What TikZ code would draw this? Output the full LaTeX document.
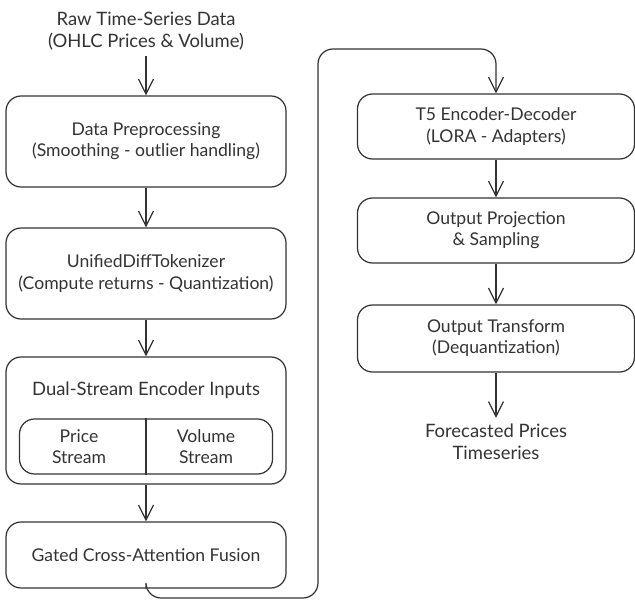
\documentclass[tikz,border=0pt]{standalone}
\usepackage{fontspec}
\setmainfont{Lato}
\usetikzlibrary{arrows.meta}
\definecolor{ink}{HTML}{333333}
\tikzset{
  stage/.style={draw=ink,line width=0.7pt,rounded corners=0.3cm,align=center,text=ink,minimum width=5.6cm,font=\fontsize{10}{12}\selectfont},
  label/.style={align=center,text=ink,font=\fontsize{10.5}{12.5}\selectfont},
  arr/.style={draw=ink,line width=0.7pt,-{Straight Barb[length=3mm,width=3mm]}}
}
\begin{document}
\begin{tikzpicture}
\useasboundingbox (0,0) rectangle (12.7,12.06);
%left column
\node[label] (raw) at (2.92,11.44) {Raw Time-Series Data\\(OHLC Prices \& Volume)};
\node[stage,minimum height=1.82cm] (prep) at (2.92,9.23) {Data Preprocessing\\(Smoothing - outlier handling)};
\node[stage,minimum height=1.82cm] (tok) at (2.92,6.59) {UnifiedDiffTokenizer\\(Compute returns - Quantization)};
\node[stage,minimum height=2.54cm] (dual) at (2.92,3.65) {};
\node[label] (dualtitle) at (2.92,4.26) {Dual-Stream Encoder Inputs};
\node[stage,minimum width=5.06cm,minimum height=1.1cm] (streams) at (2.92,3.13) {};
\draw[ink,line width=0.7pt] (streams.north) -- (streams.south);
\node[label,font=\fontsize{10}{12}\selectfont] (price) at (1.58,3.13) {Price\\Stream};
\node[label,font=\fontsize{10}{12}\selectfont] (volume) at (4.12,3.13) {Volume\\Stream};
\node[stage,minimum height=1.32cm] (fusion) at (2.92,0.96) {Gated Cross-Attention Fusion};
%right column
\node[stage,minimum width=5.54cm,minimum height=1.3cm] (t5) at (9.92,9.53) {T5 Encoder-Decoder\\(LORA - Adapters)};
\node[stage,minimum width=5.54cm,minimum height=1.3cm] (proj) at (9.92,7.45) {Output Projection\\\& Sampling};
\node[stage,minimum width=5.54cm,minimum height=1.34cm] (trans) at (9.92,5.29) {Output Transform\\(Dequantization)};
\node[label] (out) at (9.92,3.22) {Forecasted Prices\\Timeseries};
%arrows
\draw[arr] (raw) -- (prep);
\draw[arr] (prep) -- (tok);
\draw[arr] (tok) -- (dual);
\draw[arr] (dual) -- (fusion);
\coordinate (loopL) at (6.36,0.1);
\coordinate (loopT) at (9.92,11.08);
\draw[arr,rounded corners=0.3cm] (fusion.south) |- (loopL) |- (loopT) -- (t5.north);
\draw[arr] (t5) -- (proj);
\draw[arr] (proj) -- (trans);
\draw[arr] (trans) -- (out);
\end{tikzpicture}
\end{document}
